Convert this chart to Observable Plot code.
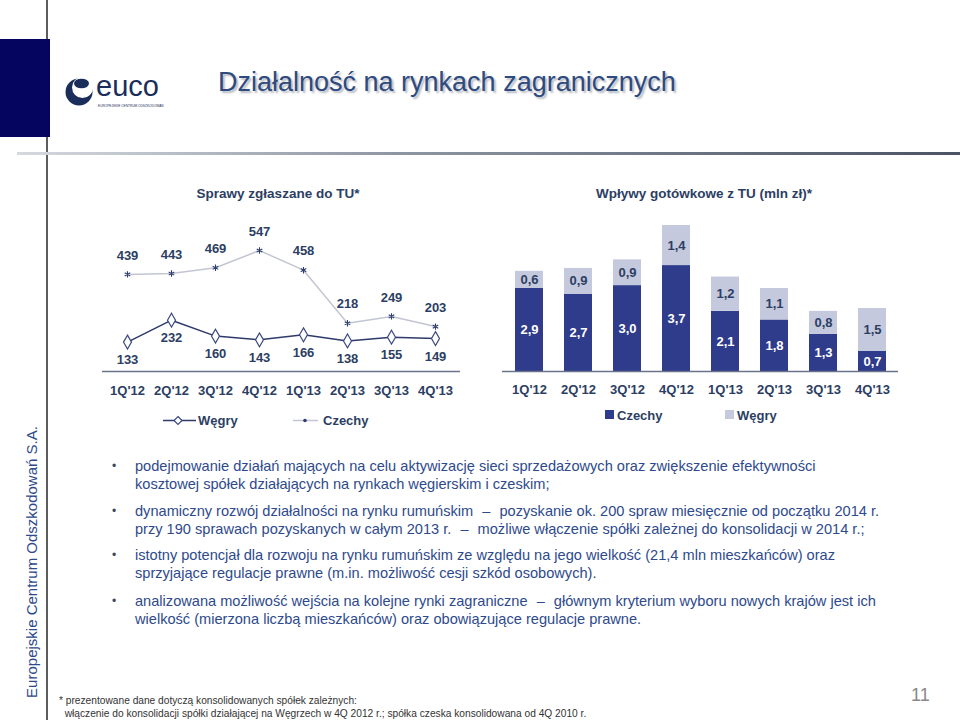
<!DOCTYPE html>
<html><head><meta charset="utf-8">
<script src="https://cdn.jsdelivr.net/npm/d3@7"></script>
<script src="https://cdn.jsdelivr.net/npm/@observablehq/plot@0.6"></script>
<style>
html,body{margin:0;padding:0;background:#fff;}
#slide{position:relative;width:960px;height:720px;overflow:hidden;background:#fff;font-family:"Liberation Sans",Arial,sans-serif;}
.abs{position:absolute;white-space:nowrap;}
.ctitle{font-size:13.5px;font-weight:bold;color:#2c3e63;line-height:14px;text-align:center;}
.leg{font-size:13px;font-weight:bold;color:#2c3e63;line-height:13px;}
.bul{position:absolute;left:112px;font-size:14.6px;line-height:17.5px;color:#2e4a8c;}
.bul .dot{position:absolute;left:0;top:0;color:#3a4660;font-size:12px;}
.bul .txt{position:absolute;left:23px;top:0;white-space:nowrap;}
.dash{margin:0 5px;}
.foot{font-size:10.2px;line-height:13px;color:#333;}
</style></head>
<body><div id="slide">
  <div class="abs" style="left:46px;top:0;width:1.5px;height:720px;background:#5c5c5c"></div>
  <div class="abs" style="left:0;top:39px;width:50px;height:98px;background:#05055f"></div>
  <div class="abs" style="left:17px;top:151.5px;width:943px;height:3px;background:linear-gradient(90deg,#d6d9de,#8f96a3 40%,#4b5365)"></div>
  <svg class="abs" style="left:60px;top:70px" width="36" height="40">
    <circle cx="19" cy="22" r="13.5" fill="#1b2d5b"/>
    <circle cx="22.5" cy="17.5" r="10.5" fill="#fff"/>
    <ellipse cx="21.5" cy="13.5" rx="7.5" ry="4.8" fill="#1b2d5b"/>
  </svg>
  <div class="abs" style="left:96px;top:73px;font-size:29px;line-height:26px;height:26px;color:#1b2d5b">euco</div>
  <div class="abs" style="left:98px;top:104px;font-size:3.2px;line-height:4px;color:#1b2d5b">EUROPEJSKIE CENTRUM ODSZKODOWAŃ</div>
  <div class="abs" style="left:218px;top:69px;font-size:27px;line-height:27px;color:#2f4a7e;text-shadow:2px 2px 2px #b4b8c0">Działalność na rynkach zagranicznych</div>

  <div class="abs ctitle" style="left:178px;top:187px;width:200px">Sprawy zgłaszane do TU*</div>
  <div class="abs ctitle" style="left:584px;top:187px;width:240px">Wpływy gotówkowe z TU (mln zł)*</div>

  <div id="leftChart" class="abs" style="left:100px;top:205px"></div>
  <div id="rightChart" class="abs" style="left:497px;top:205px"></div>

  <svg class="abs" style="left:160px;top:413px" width="40" height="16">
    <line x1="3" y1="7.5" x2="36" y2="7.5" stroke="#2e3a6a" stroke-width="1.5"/>
    <path d="M18,3.5 L22,7.5 L18,11.5 L14,7.5 Z" fill="#fff" stroke="#3c4a80" stroke-width="1.2"/>
  </svg>
  <div class="abs leg" style="left:198px;top:414px">Węgry</div>
  <svg class="abs" style="left:290px;top:413px" width="32" height="16">
    <line x1="3" y1="7.5" x2="28" y2="7.5" stroke="#c3c6d2" stroke-width="1.5"/>
    <circle cx="15" cy="7.5" r="1.8" fill="#2d3c6e"/>
  </svg>
  <div class="abs leg" style="left:323px;top:414px">Czechy</div>

  <div class="abs" style="left:605px;top:410px;width:9px;height:9px;background:#2f3b8b"></div>
  <div class="abs leg" style="left:617px;top:409px">Czechy</div>
  <div class="abs" style="left:725px;top:410px;width:9px;height:9px;background:#c5c9dd"></div>
  <div class="abs leg" style="left:737px;top:409px">Węgry</div>

  <div class="bul" style="top:458px"><span class="dot">•</span><span class="txt">podejmowanie działań mających na celu aktywizację sieci sprzedażowych oraz zwiększenie efektywności<br>kosztowej spółek działających na rynkach węgierskim i czeskim;</span></div>
  <div class="bul" style="top:503px"><span class="dot">•</span><span class="txt">dynamiczny rozwój działalności na rynku rumuńskim <span class="dash">–</span> pozyskanie ok. 200 spraw miesięcznie od początku 2014 r.<br>przy 190 sprawach pozyskanych w całym 2013 r. <span class="dash">–</span> możliwe włączenie spółki zależnej do konsolidacji w 2014 r.;</span></div>
  <div class="bul" style="top:547px"><span class="dot">•</span><span class="txt">istotny potencjał dla rozwoju na rynku rumuńskim ze względu na jego wielkość (21,4 mln mieszkańców) oraz<br>sprzyjające regulacje prawne (m.in. możliwość cesji szkód osobowych).</span></div>
  <div class="bul" style="top:593px"><span class="dot">•</span><span class="txt">analizowana możliwość wejścia na kolejne rynki zagraniczne <span class="dash">–</span> głównym kryterium wyboru nowych krajów jest ich<br>wielkość (mierzona liczbą mieszkańców) oraz obowiązujące regulacje prawne.</span></div>

  <div class="abs foot" style="left:59px;top:694px">* prezentowane dane dotyczą konsolidowanych spółek zależnych:<br>&nbsp;&nbsp;włączenie do konsolidacji spółki działającej na Węgrzech w 4Q 2012 r.; spółka czeska konsolidowana od 4Q 2010 r.</div>
  <div class="abs" style="left:911px;top:686px;font-size:18px;line-height:18px;color:#8a8a8a">11</div>

  <div class="abs" style="left:31px;top:562px;transform:translate(-50%,-50%) rotate(-90deg);font-size:15px;line-height:15px;color:#2e4a8c">Europejskie Centrum Odszkodowań S.A.</div>
</div>
<script>
const quarters = ["1Q'12","2Q'12","3Q'12","4Q'12","1Q'13","2Q'13","3Q'13","4Q'13"];
const wegryCases = [133,232,160,143,166,138,155,149];
const czechyCases = [439,443,469,547,458,218,249,203];
const czechyCash = [2.9,2.7,3.0,3.7,2.1,1.8,1.3,0.7];
const wegryCash = [0.6,0.9,0.9,1.4,1.2,1.1,0.8,1.5];

const FONT = '"Liberation Sans", Arial, sans-serif';
const LABEL = "#2c3e63";

const huRows = quarters.map((q,i)=>({q, v:wegryCases[i]}));
const czRows = quarters.map((q,i)=>({q, v:czechyCases[i]}));

const left = Plot.plot({
  width:362, height:200, marginLeft:2, marginRight:2, marginTop:45, marginBottom:34,
  style:{fontFamily:FONT, background:"transparent", overflow:"visible"},
  x:{type:"point", domain:quarters, padding:0.5, label:null},
  y:{domain:[0,547], axis:null},
  marks:[
    Plot.ruleY([0], {stroke:"#69738a", strokeWidth:1.6}),
    Plot.line(czRows, {x:"q", y:"v", stroke:"#c3c6d2", strokeWidth:1.5}),
    Plot.dot(czRows, {x:"q", y:"v", symbol:"asterisk", r:3, stroke:"#2d3c6e", strokeWidth:1.1}),
    Plot.line(huRows, {x:"q", y:"v", stroke:"#2e3a6a", strokeWidth:1.5}),
    Plot.dot(huRows, {x:"q", y:"v", symbol:"diamond", r:4.2, fill:"#fff", stroke:"#3c4a80", strokeWidth:1.2}),
    Plot.text(czRows, {x:"q", y:"v", text:d=>String(d.v), dy:-19, fontSize:13, fontWeight:"bold", fill:LABEL}),
    Plot.text(huRows, {x:"q", y:"v", text:d=>String(d.v), dy:18, fontSize:13, fontWeight:"bold", fill:LABEL}),
    Plot.axisX({tickSize:0, tickPadding:14, fontSize:13, fontWeight:"bold", fill:LABEL, label:null})
  ]
});
document.getElementById("leftChart").appendChild(left);

const fmt = v => v.toFixed(1).replace(".", ",");
const czBars = quarters.map((q,i)=>({q, base:0, v:czechyCash[i]}));
const huBars = quarters.map((q,i)=>({q, base:czechyCash[i], v:wegryCash[i]}));

const right = Plot.plot({
  width:404, height:200, marginLeft:5, marginRight:3, marginTop:20, marginBottom:34,
  style:{fontFamily:FONT, background:"transparent", overflow:"visible"},
  x:{type:"band", domain:quarters, paddingInner:0.433, paddingOuter:0.2165, label:null},
  y:{domain:[0,5.1], axis:null},
  marks:[
    Plot.barY(czBars, {x:"q", y1:"base", y2:d=>d.base+d.v, fill:"#2f3b8b"}),
    Plot.barY(huBars, {x:"q", y1:"base", y2:d=>d.base+d.v, fill:"#c5c9dd"}),
    Plot.text(czBars, {x:"q", y:d=>d.base+d.v/2, text:d=>fmt(d.v), fontSize:13, fontWeight:"bold", fill:"#fff"}),
    Plot.text(huBars, {x:"q", y:d=>d.base+d.v/2, text:d=>fmt(d.v), fontSize:13, fontWeight:"bold", fill:LABEL}),
    Plot.ruleY([0], {stroke:"#69738a", strokeWidth:1.6}),
    Plot.axisX({tickSize:0, tickPadding:13, fontSize:13, fontWeight:"bold", fill:LABEL, label:null})
  ]
});
document.getElementById("rightChart").appendChild(right);
</script>
</body></html>
